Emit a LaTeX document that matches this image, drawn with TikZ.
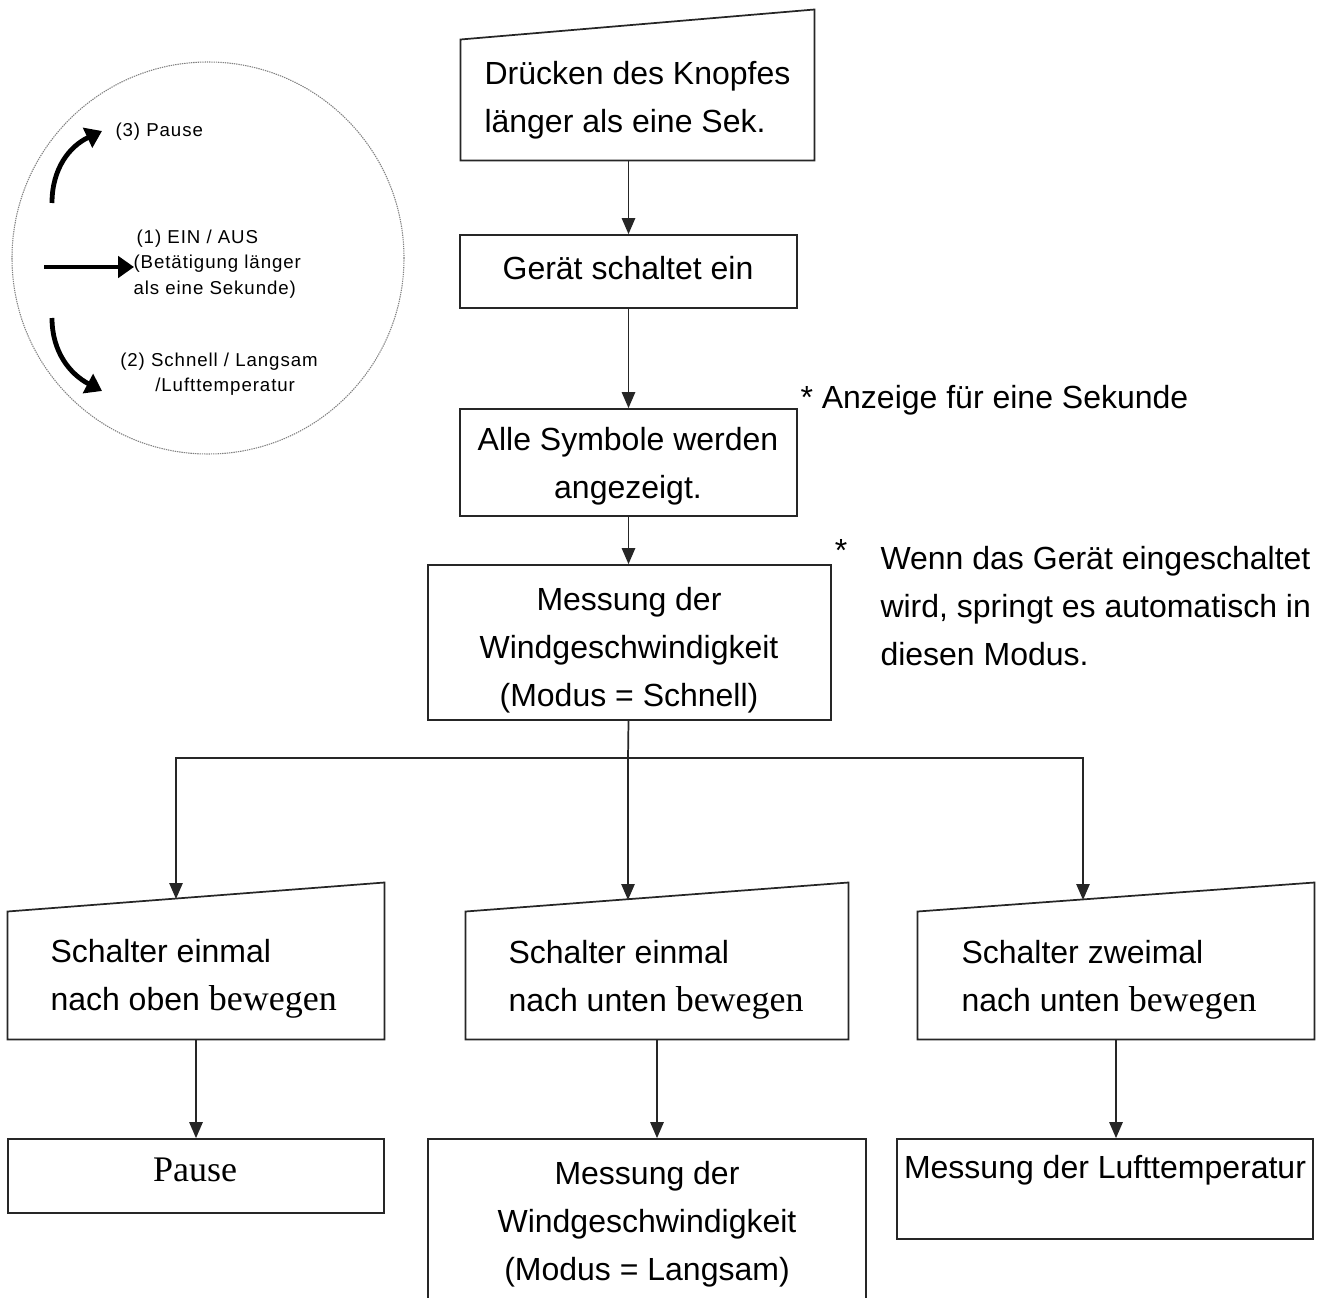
\documentclass[tikz,border=0pt]{standalone}
\usepackage{fontspec}
\setmainfont{Liberation Sans}
\newfontfamily\timesfont{Liberation Serif}
\newfontfamily\knobfont[LetterSpace=5]{Liberation Sans}
\usetikzlibrary{arrows.meta,fit}

\tikzset{every picture/.style={line width=0.75pt}}
\tikzset{
  box/.style={draw=black!85, line width=1.3pt, inner sep=0pt},
  manual/.style={inner sep=0pt},
  outline/.style={draw=black!85, line width=1.3pt},
  txt/.style={font=\fontsize{24}{36}\selectfont, inner sep=0pt},
  small/.style={font=\knobfont\fontsize{14}{19}\selectfont, inner sep=0pt},
  arr/.style={draw=black!85, line width=1.3pt, -{Triangle[length=12pt,width=10pt]}},
  knob/.style={line width=3.6pt, -{Triangle[length=12pt,width=16pt]}},
}
\newcommand{\serifword}[1]{{\timesfont\fontsize{27}{36}\selectfont #1}}

\begin{document}
\begin{tikzpicture}[x=0.75pt,y=0.75pt,yscale=-1,xscale=1]
\clip (0,0) rectangle (1327,1298);

%Shape: Circle (switch sketch)
\draw [gray, line width=0.8pt, dash pattern=on 1pt off 0.7pt] (208,258) circle [radius=196];
%Curve Lines
\draw [knob] (52,203) .. controls (52,168) and (70,146) .. (102,131);
\draw [knob] (44,267) -- (134,267);
\draw [knob] (52,318) .. controls (52,352) and (70,374) .. (102,391);
\node [small, anchor=west] (pause3) at (115,132) {(3) Pause};
\node [small, anchor=west, align=left] (onoff1) at (133,264) {\,(1) EIN / AUS\\(Betätigung länger\\als eine Sekunde)};
\node [small, align=center] (fast2) at (219,374) {(2) Schnell / Langsam\\\ \ /Lufttemperatur};

%Shape: Manual input
\node [manual, fit={(461,10) (814,160)}] (A) {};
\draw [outline] (A.south west) -- (A.south east) -- (A.north east) -- ([yshift=22.5pt]A.north west) -- cycle;
\node [txt, anchor=west, align=left] (A-t) at (484,100) {Drücken des Knopfes\\länger als eine Sek.};
%Shape: Rectangle
\node [box, fit={(460,235) (797,308)}] (B) {};
\node [txt] (B-t) at (628,268) {Gerät schaltet ein};
\node [box, fit={(460,409) (797,516)}] (C) {};
\node [txt, align=center] (C-t) at (628,466) {Alle Symbole werden\\angezeigt.};
\node [box, fit={(428,565) (831,720)}] (D) {};
\node [txt, align=center] (D-t) at (629,650) {Messung der\\Windgeschwindigkeit\\(Modus = Schnell)};

%Notes
\node [txt, anchor=west] (note1) at (800,400) {* Anzeige für eine Sekunde};
\node [txt] (star) at (841,550) {*};
\node [txt, anchor=west, align=left] (note2) at (880,606) {Wenn das Gerät eingeschaltet\\wird, springt es automatisch in\\diesen Modus.};

%Shape: Manual input (switch)
\node [manual, fit={(8,883) (384,1039)}] (E) {};
\draw [outline] (E.south west) -- (E.south east) -- (E.north east) -- ([yshift=21.75pt]E.north west) -- cycle;
\node [txt, anchor=west, align=left] (E-t) at (50,979) {Schalter einmal\\nach oben \serifword{bewegen}};
\node [manual, fit={(466,883) (848,1039)}] (F) {};
\draw [outline] (F.south west) -- (F.south east) -- (F.north east) -- ([yshift=21.75pt]F.north west) -- cycle;
\node [txt, anchor=west, align=left] (F-t) at (508,980) {Schalter einmal\\nach unten \serifword{bewegen}};
\node [manual, fit={(918,883) (1314,1039)}] (G) {};
\draw [outline] (G.south west) -- (G.south east) -- (G.north east) -- ([yshift=21.75pt]G.north west) -- cycle;
\node [txt, anchor=west, align=left] (G-t) at (961,980) {Schalter zweimal\\nach unten \serifword{bewegen}};

%Shape: Rectangle (results)
\node [box, fit={(8,1139) (384,1213)}] (H) {};
\node [txt] (H-t) at (195,1170) {\serifword{Pause}};
\node [box, fit={(428,1139) (866,1310)}] (I) {};
\node [txt, align=center] (I-t) at (647,1224) {Messung der\\Windgeschwindigkeit\\(Modus = Langsam)};
\node [box, fit={(897,1139) (1313,1239)}] (J) {};
\node [txt] (J-t) at (1105,1170) {Messung der Lufttemperatur};

%Straight Lines
\coordinate (split) at (628,758);
\coordinate (E-in) at (176,899);
\coordinate (F-in) at (628,900);
\coordinate (G-in) at (1083,900);
\draw [arr] (A.south -| B.north) -- (B.north);
\draw [arr] (B.south) -- (C.north);
\draw [arr] (C.south) -- (C.south |- D.north);
\draw [outline] (C.south |- D.south) -- (split);
\draw [arr] (split) -| (E-in);
\draw [arr] (split) -- (F-in);
\draw [arr] (split) -| (G-in);
\draw [arr] (E.south) -- (H.north);
\draw [arr] (F.south) -- (F.south |- I.north);
\draw [arr] (G.south) -- (G.south |- J.north);

\end{tikzpicture}
\end{document}
